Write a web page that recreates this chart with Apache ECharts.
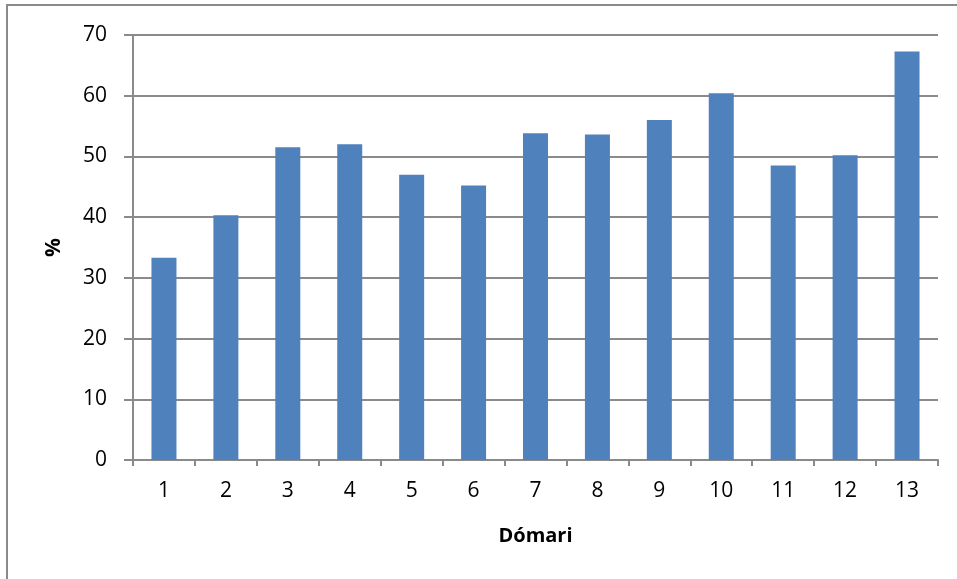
<!DOCTYPE html>
<html>
<head>
<meta charset="utf-8">
<script src="https://cdn.jsdelivr.net/npm/echarts@6/dist/echarts.min.js"></script>
<style>
  html, body { margin: 0; padding: 0; background: #fff; }
  #chart { width: 957px; height: 579px; }
</style>
</head>
<body>
<div id="chart"></div>
<script>
// Categories along the x axis (Dómari 1..13)
const categories = ['1', '2', '3', '4', '5', '6', '7', '8', '9', '10', '11', '12', '13'];
// Percentage per category
const values = [33.3, 40.3, 51.5, 52.0, 47.0, 45.2, 53.8, 53.6, 56.0, 60.4, 48.5, 50.2, 67.3];
// Y axis range and step
const yMin = 0;
const yMax = 70;
const yStep = 10;

const axisGrey = '#8a8a8a';
const font = '"Open Sans", sans-serif';

const chart = echarts.init(document.getElementById('chart'), null, { renderer: 'canvas' });

chart.setOption({
  animation: false,
  backgroundColor: '#ffffff',
  graphic: [{
    type: 'rect',
    shape: { x: 7, y: 5, width: 1200, height: 1200 },
    style: { fill: 'none', stroke: axisGrey, lineWidth: 2 },
    silent: true
  }],
  grid: { left: 133, right: 19, top: 35, bottom: 119, containLabel: false },
  xAxis: {
    type: 'category',
    data: categories,
    boundaryGap: true,
    name: 'Dómari',
    nameLocation: 'middle',
    nameGap: 66,
    nameTextStyle: { fontFamily: font, fontSize: 20, fontWeight: 'bold', color: '#000' },
    axisLine: { show: true, lineStyle: { color: axisGrey, width: 2 } },
    axisTick: { show: true, length: 6, lineStyle: { color: axisGrey, width: 2 } },
    axisLabel: { fontFamily: font, fontSize: 21, color: '#000', margin: 21 },
    splitLine: { show: false }
  },
  yAxis: {
    type: 'value',
    min: yMin,
    max: yMax,
    interval: yStep,
    name: '%',
    nameLocation: 'middle',
    nameGap: 68,
    nameRotate: 90,
    nameTextStyle: { fontFamily: font, fontSize: 21, fontWeight: 'bold', color: '#000' },
    axisLine: { show: true, lineStyle: { color: axisGrey, width: 2 } },
    axisTick: { show: true, length: 9, lineStyle: { color: axisGrey, width: 2 } },
    axisLabel: { fontFamily: font, fontSize: 21, color: '#000', margin: 26 },
    splitLine: { show: true, lineStyle: { color: axisGrey, width: 2 } }
  },
  series: [{
    type: 'bar',
    data: values,
    barWidth: 25,
    itemStyle: { color: '#4f81bd' }
  }]
});
</script>
</body>
</html>
